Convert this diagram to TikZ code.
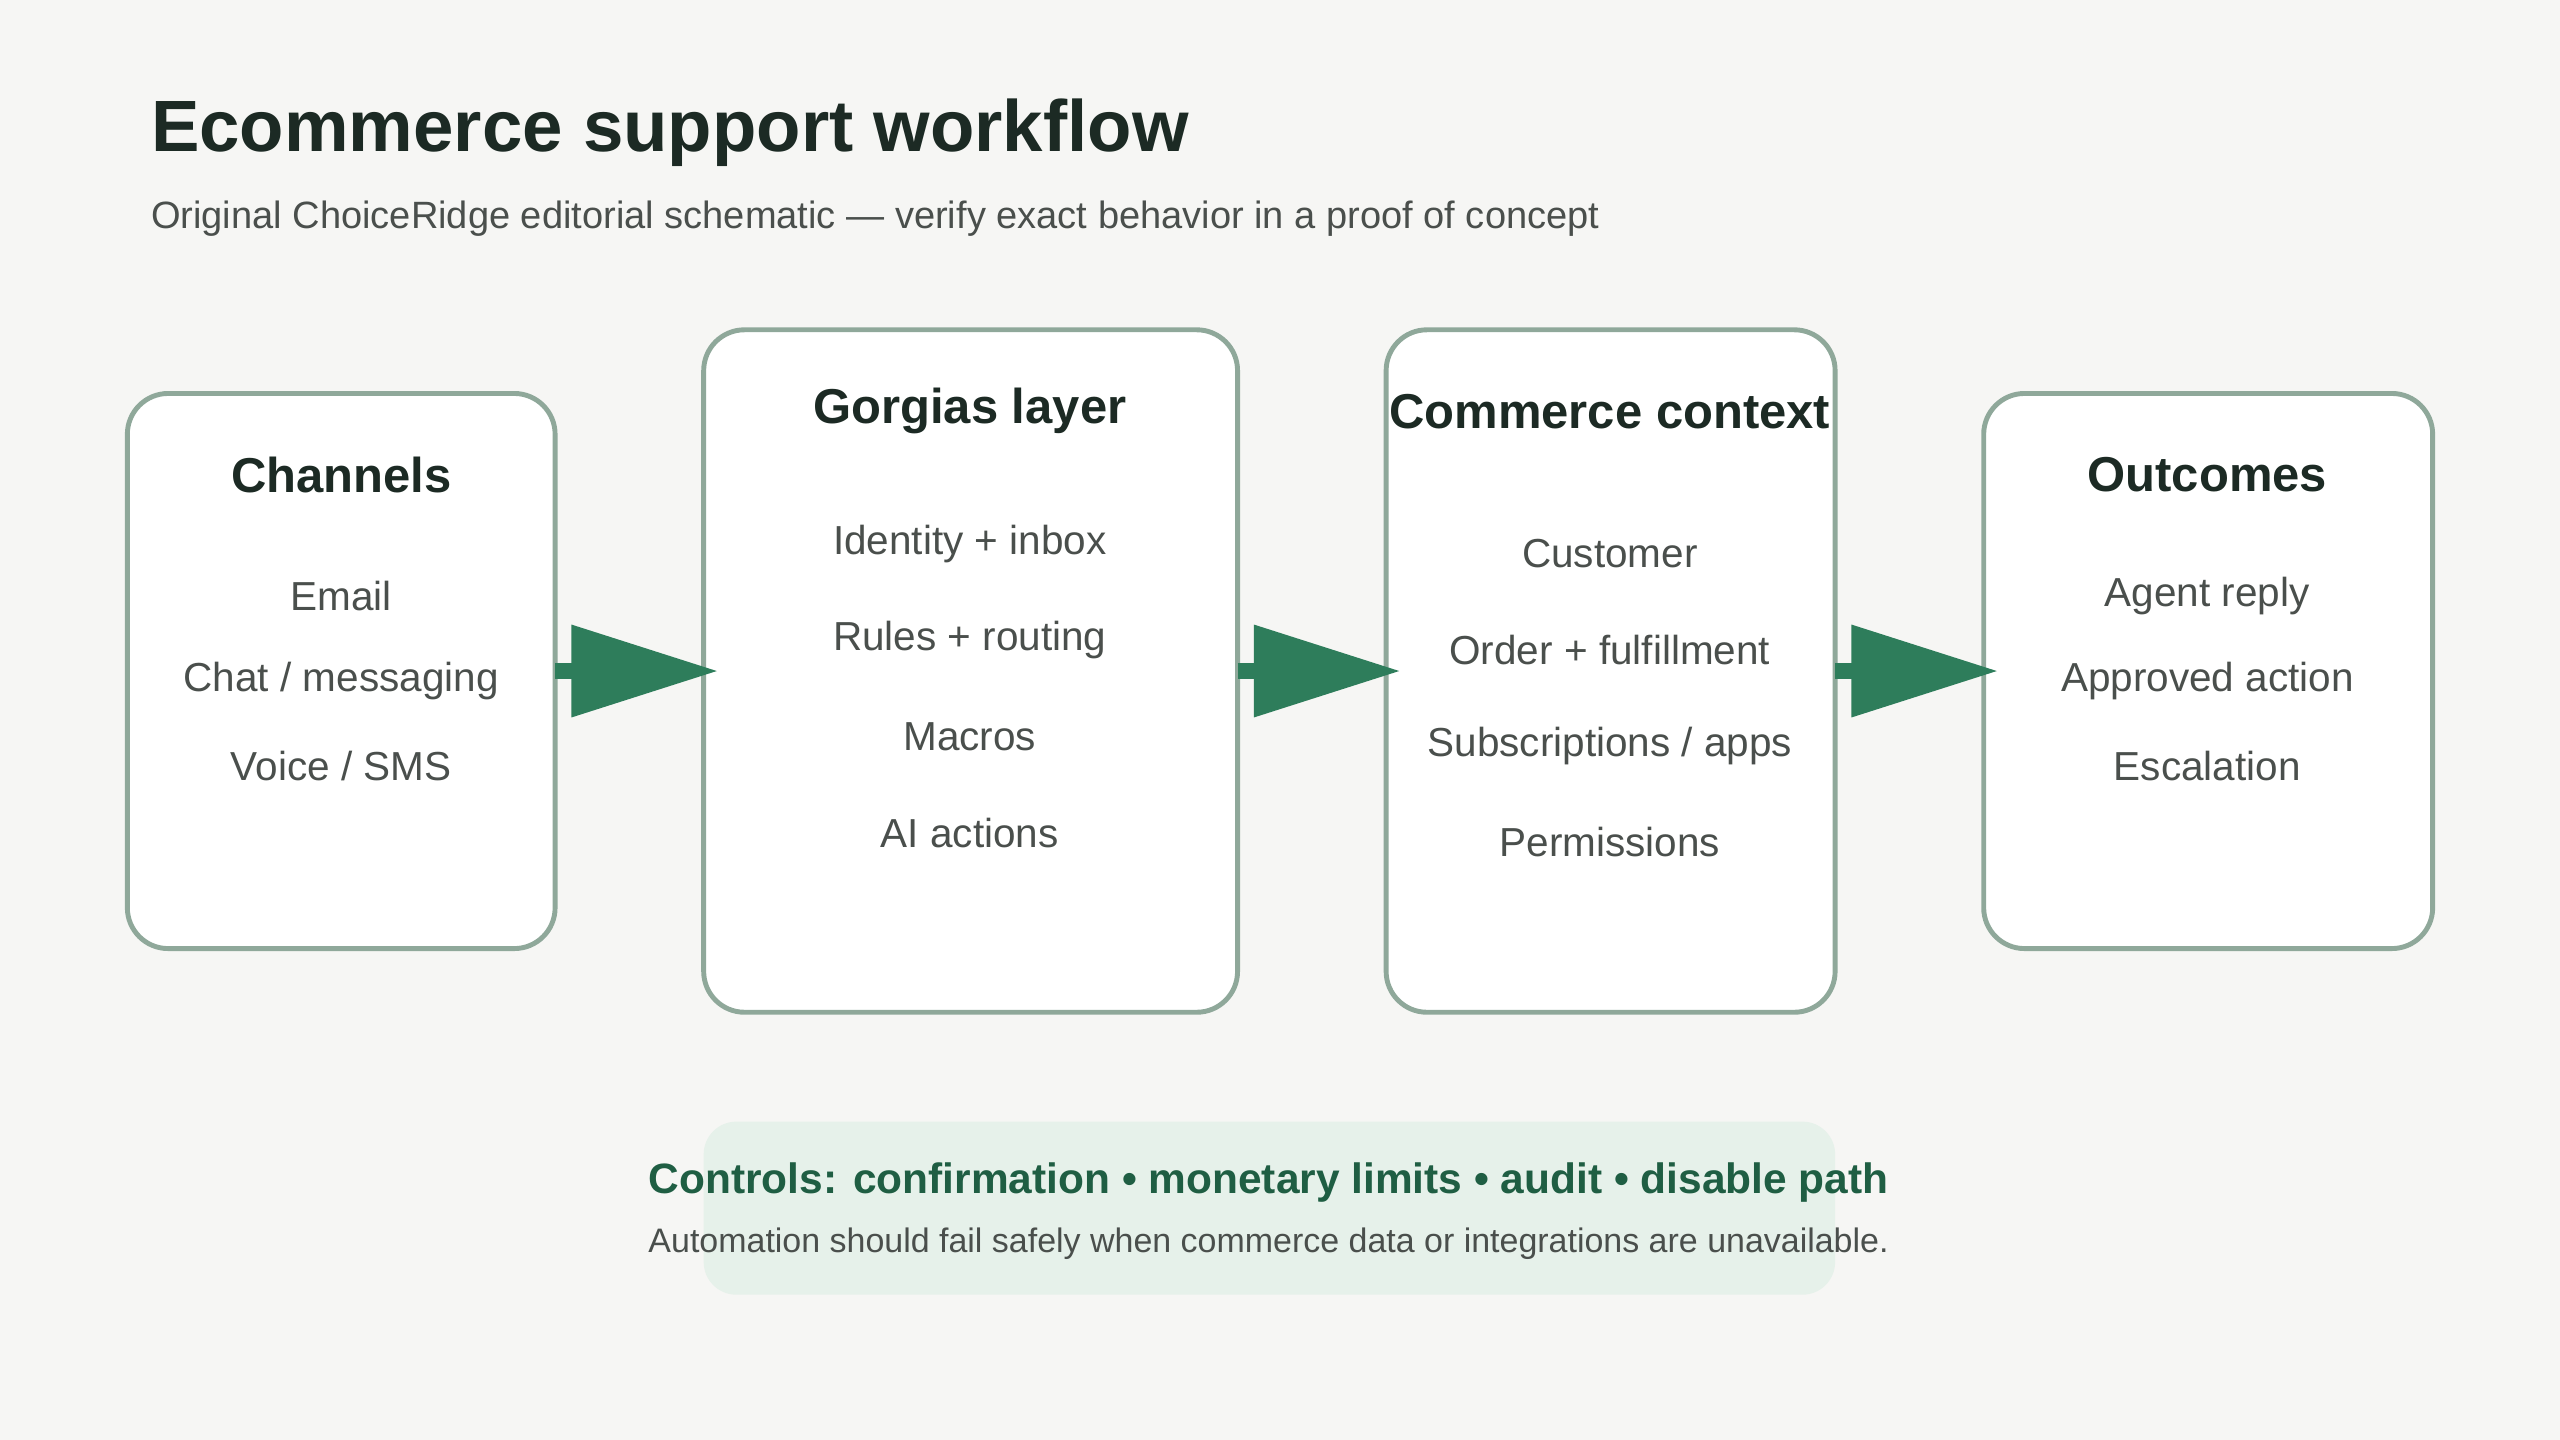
\documentclass[tikz,border=0pt]{standalone}
\usepackage{fontspec}
\setmainfont{Liberation Sans}
\usetikzlibrary{positioning,arrows.meta}
\definecolor{bgc}{HTML}{F6F6F4}
\definecolor{edgec}{HTML}{8FA89A}
\definecolor{arrc}{HTML}{2E7D5B}
\definecolor{inkc}{HTML}{1C2A24}
\definecolor{itemc}{HTML}{4A4F4C}
\definecolor{ctrlc}{HTML}{E6F1EA}
\definecolor{ctrltxt}{HTML}{1F5E43}
\tikzset{
  stage/.style={draw=edgec,line width=3pt,fill=white,rounded corners=25pt},
  head/.style={font=\fontsize{30}{34}\selectfont\bfseries,text=inkc},
  item/.style={font=\fontsize{24.8}{29}\selectfont,text=itemc},
  flow/.style={arrc,line width=10pt,-{Triangle[length=90pt,width=54pt]}}
}
\begin{document}
\begin{tikzpicture}[x=1pt,y=-1pt]
      % Background
      \fill[bgc] (0,0) rectangle (1568,882);
      \useasboundingbox (0,0) rectangle (1568,882);

      % Title
      \node[anchor=west,font=\fontsize{44.5}{50}\selectfont\bfseries,text=inkc] (title) at (89,81) {Ecommerce support workflow};
      \node[anchor=west,font=\fontsize{23.3}{27}\selectfont,text=itemc] (subtitle) at (89,134) {Original ChoiceRidge editorial schematic — verify exact behavior in a proof of concept};

      % Stages
      \draw[stage] (78,241) rectangle (340,581);
      \draw[stage] (431,202) rectangle (758,620);
      \draw[stage] (849,202) rectangle (1124,620);
      \draw[stage] (1215,241) rectangle (1490,581);
      \coordinate (ch) at (340,411);
      \coordinate (glin) at (440,411);
      \coordinate (gl) at (758,411);
      \coordinate (ccin) at (858,411);
      \coordinate (cc) at (1124,411);
      \coordinate (ocin) at (1224,411);

      % Channels
      \node[head] (chhead) at (209,291) {Channels};
      \foreach \t [count=\i] in {Email,Chat / messaging,Voice / SMS}
        \node[item] (ch\i) at (209,313+52*\i) {\t};

      % Gorgias layer
      \node[head] (glhead) at (594,252) {Gorgias layer};
      \foreach \t [count=\i] in {Identity + inbox,Rules + routing,Macros,AI actions}
        \node[item] (gl\i) at (594,274+59*\i) {\t};

      % Commerce context
      \node[head] (cchead) at (986,252) {Commerce context};
      \foreach \t [count=\i] in {Customer,Order + fulfillment,Subscriptions / apps,Permissions}
        \node[item] (cc\i) at (986,280+59*\i) {\t};

      % Outcomes
      \node[head] (ochead) at (1352,291) {Outcomes};
      \foreach \t [count=\i] in {Agent reply,Approved action,Escalation}
        \node[item] (oc\i) at (1352,313+52*\i) {\t};

      % Flow arrows
      \draw[flow] (ch) -- (glin);
      \draw[flow] (gl) -- (ccin);
      \draw[flow] (cc) -- (ocin);

      % Controls
      \fill[ctrlc,rounded corners=20pt] (431,687) rectangle (1124,793);
      \node[font=\fontsize{26}{30}\selectfont\bfseries,text=ctrltxt] (ctrl) at (777,724) {Controls: confirmation • monetary limits • audit • disable path};
      \node[font=\fontsize{20.8}{24}\selectfont,text=itemc] (ctrlnote) at (777,762) {Automation should fail safely when commerce data or integrations are unavailable.};
\end{tikzpicture}
\end{document}
